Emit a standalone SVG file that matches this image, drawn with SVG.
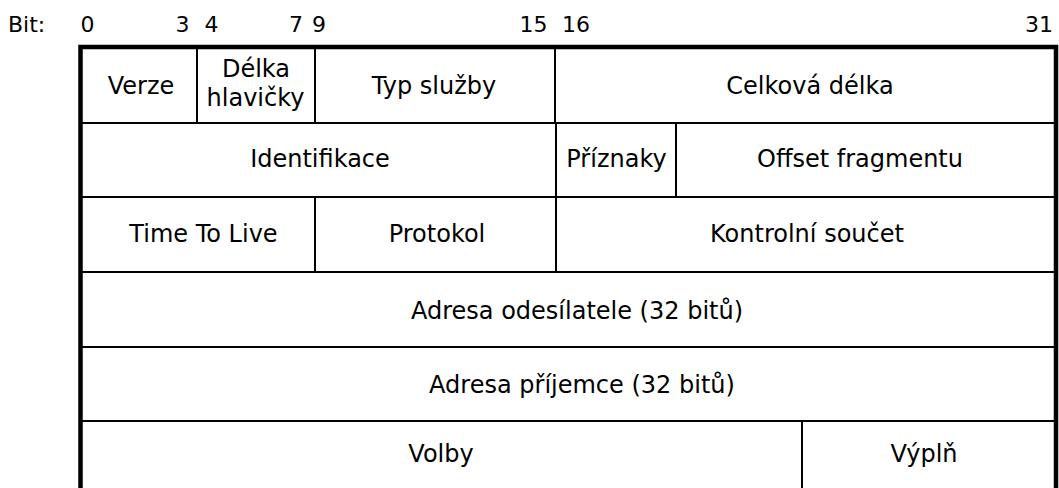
<svg xmlns="http://www.w3.org/2000/svg" width="1059" height="488" viewBox="0 0 1059 488">
<style>
text{font-family:"DejaVu Sans","Liberation Sans",sans-serif;fill:#000}
.lbl{font-size:22px}
.cell text{font-size:24px;text-anchor:middle}
.cell rect{fill:none;stroke:#000;stroke-width:2}
.frame{fill:none;stroke:#000;stroke-width:4.5}
</style>
<rect width="1059" height="488" fill="#fff"/>
<g id="bits" class="lbl">
<text x="8" y="32">Bit:</text>
<text x="87.5" y="32" text-anchor="middle">0</text>
<text x="182.5" y="32" text-anchor="middle">3</text>
<text x="211.5" y="32" text-anchor="middle">4</text>
<text x="296" y="32" text-anchor="middle">7</text>
<text x="319" y="32" text-anchor="middle">9</text>
<text x="533.5" y="32" text-anchor="middle">15</text>
<text x="576" y="32" text-anchor="middle">16</text>
<text x="1039" y="32" text-anchor="middle">31</text>
</g>
<g id="verze" class="cell"><rect x="81" y="47" width="116" height="76"/><text x="141" y="94">Verze</text></g>
<g id="delka-hlavicky" class="cell"><rect x="197" y="47" width="118" height="76"/><text x="256" y="77">Délka</text><text x="255.5" y="106">hlavičky</text></g>
<g id="typ-sluzby" class="cell"><rect x="315" y="47" width="240" height="76"/><text x="434" y="94">Typ služby</text></g>
<g id="celkova-delka" class="cell"><rect x="555" y="47" width="501" height="76"/><text x="810" y="94">Celková délka</text></g>
<g id="identifikace" class="cell"><rect x="81" y="123" width="475" height="74"/><text x="320" y="167">Identifikace</text></g>
<g id="priznaky" class="cell"><rect x="556" y="123" width="120" height="74"/><text x="616.5" y="167">Příznaky</text></g>
<g id="offset-fragmentu" class="cell"><rect x="676" y="123" width="380" height="74"/><text x="860" y="166.5">Offset fragmentu</text></g>
<g id="ttl" class="cell"><rect x="81" y="197" width="234" height="75"/><text x="203.5" y="242">Time To Live</text></g>
<g id="protokol" class="cell"><rect x="315" y="197" width="241" height="75"/><text x="437" y="242">Protokol</text></g>
<g id="kontrolni-soucet" class="cell"><rect x="556" y="197" width="500" height="75"/><text x="807" y="242">Kontrolní součet</text></g>
<g id="adresa-odesilatele" class="cell"><rect x="81" y="272" width="975" height="75"/><text x="577" y="319">Adresa odesílatele (32 bitů)</text></g>
<g id="adresa-prijemce" class="cell"><rect x="81" y="347" width="975" height="74"/><text x="582" y="393">Adresa příjemce (32 bitů)</text></g>
<g id="volby" class="cell"><rect x="81" y="421" width="721" height="80"/><text x="441" y="462">Volby</text></g>
<g id="vypln" class="cell"><rect x="802" y="421" width="254" height="80"/><text x="924" y="462">Výplň</text></g>
<g id="connectors"><path class="frame" d="M80.5,500 V47 H1056 V500"/></g>
</svg>
